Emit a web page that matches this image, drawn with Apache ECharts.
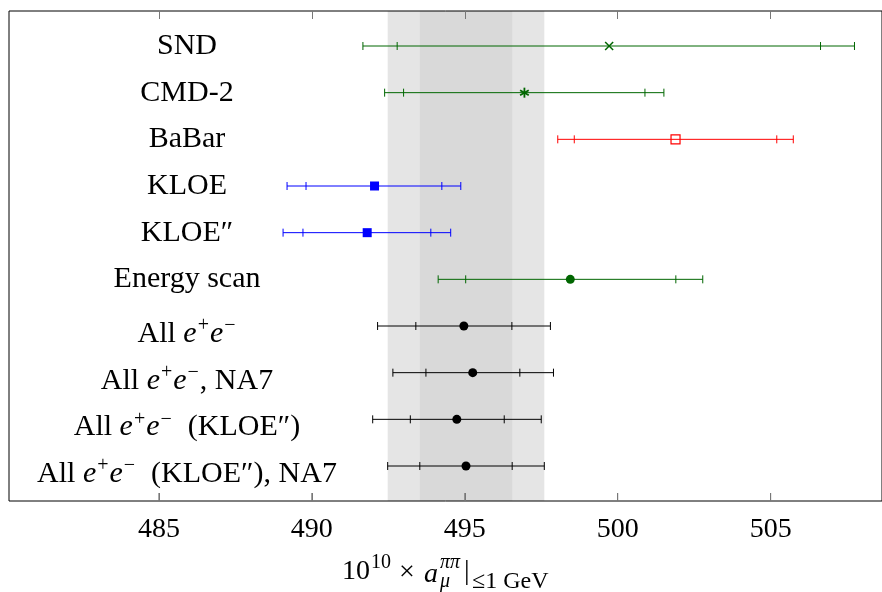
<!DOCTYPE html>
<html>
<head>
<meta charset="utf-8">
<script src="https://cdn.jsdelivr.net/npm/echarts@6/dist/echarts.min.js"></script>
<style>
  html, body { margin: 0; padding: 0; background: #fff; }
  #main { width: 882px; height: 592px; }
</style>
</head>
<body>
<div id="main"></div>
<script>
// measurements, one entry per row (top to bottom)
var rowNames = ['SND', 'CMD-2', 'BaBar', 'KLOE', 'KLOE″', 'Energy scan',
  'All e+e−', 'All e+e−, NA7', 'All e+e− (KLOE″)', 'All e+e− (KLOE″), NA7'];
var centers = [499.72, 496.95, 501.89, 492.05, 491.81, 498.45, 494.97, 495.26, 494.74, 495.04];
var innerLo = [492.79, 493.00, 498.58, 489.81, 489.71, 495.03, 493.40, 493.73, 493.22, 493.53];
var innerHi = [506.63, 500.89, 505.20, 494.25, 493.89, 501.90, 496.54, 496.80, 496.29, 496.55];
var outerLo = [491.67, 492.38, 498.04, 489.19, 489.06, 494.13, 492.15, 492.65, 491.99, 492.48];
var outerHi = [507.74, 501.51, 505.74, 494.87, 494.54, 502.78, 497.80, 497.90, 497.50, 497.60];
var bandInner = [493.53, 496.55];
var bandOuter = [492.48, 497.60];
var xTicks = [485, 490, 495, 500, 505];

var markers = ['cross', 'asterisk', 'openSquare', 'square', 'square', 'circle', 'circle', 'circle', 'circle', 'circle'];
var rowColors = ['#006600', '#006600', '#ff0000', '#0000ff', '#0000ff', '#006600', '#000', '#000', '#000', '#000'];

var serif = "'Liberation Serif', 'DejaVu Serif', serif";
var yMin = -0.75, yMax = 9.75;

var chartDom = document.getElementById('main');
var myChart = echarts.init(chartDom);

var rows = rowNames.map(function (n, i) {
  return [i, centers[i], innerLo[i], innerHi[i], outerLo[i], outerHi[i]];
});

// latex-ish rich text for the row names
function richName(name) {
  if (name.indexOf('All e+e−') !== 0) {
    return '{r|' + name + '}';
  }
  var rest = name.slice('All e+e−'.length);
  if (rest.indexOf(' (') === 0) rest = ' ' + rest;
  return '{r|All}{sp| }{i|e}{s|+}{i|e}{s|−}' + (rest ? '{r|' + rest + '}' : '');
}

function renderBar(params, api) {
  var row = api.value(0);
  var p = api.coord([api.value(1), row]);
  var y = p[1];
  var xs = [api.value(4), api.value(2), api.value(3), api.value(5)].map(function (v) {
    return api.coord([v, row])[0];
  });
  var col = rowColors[params.dataIndex];
  var ln = { stroke: col, lineWidth: 1 };
  var kids = [{ type: 'line', shape: { x1: xs[0], y1: y, x2: xs[3], y2: y }, style: ln }];
  xs.forEach(function (x) {
    kids.push({ type: 'line', shape: { x1: x, y1: y - 4, x2: x, y2: y + 4 }, style: ln });
  });
  var m = markers[params.dataIndex];
  var st = { stroke: col, lineWidth: 1.5 };
  if (m === 'cross') {
    kids.push({ type: 'line', shape: { x1: p[0] - 4, y1: y - 4, x2: p[0] + 4, y2: y + 4 }, style: st });
    kids.push({ type: 'line', shape: { x1: p[0] - 4, y1: y + 4, x2: p[0] + 4, y2: y - 4 }, style: st });
  } else if (m === 'asterisk') {
    [90, 30, 150].forEach(function (a) {
      var dx = 5 * Math.cos(a * Math.PI / 180), dy = 5 * Math.sin(a * Math.PI / 180);
      kids.push({ type: 'line', shape: { x1: p[0] - dx, y1: y - dy, x2: p[0] + dx, y2: y + dy },
        style: { stroke: col, lineWidth: 1.8 } });
    });
  } else if (m === 'openSquare') {
    kids.push({ type: 'rect', shape: { x: p[0] - 4.5, y: y - 4.5, width: 9, height: 9 },
      style: { fill: 'none', stroke: col, lineWidth: 1.2 } });
  } else if (m === 'square') {
    kids.push({ type: 'rect', shape: { x: p[0] - 4.5, y: y - 4.5, width: 9, height: 9 }, style: { fill: col } });
  } else {
    kids.push({ type: 'circle', shape: { cx: p[0], cy: y, r: 4.5 }, style: { fill: col } });
  }
  return { type: 'group', children: kids };
}

// inward tick marks on the lower frame edge, placed by the x scale
function renderTick(params, api) {
  var b = api.coord([api.value(0), yMax]);
  return {
    type: 'line',
    shape: { x1: b[0], y1: b[1] - 8, x2: b[0], y2: b[1] },
    style: { stroke: '#777', lineWidth: 1 }
  };
}

function tx(text, x, y, size, italic) {
  return {
    type: 'text', x: x, y: y, silent: true,
    style: {
      text: text, fill: '#000', fontSize: size, fontFamily: serif,
      fontStyle: italic ? 'italic' : 'normal',
      align: 'left', verticalAlign: 'middle',
      textAlign: 'left', textVerticalAlign: 'middle'
    }
  };
}

var option = {
  animation: false,
  backgroundColor: '#fff',
  grid: {
    left: 9, right: 0, top: 11, bottom: 91,
    show: true, z: 3, backgroundColor: 'transparent',
    borderColor: '#000', borderWidth: 1
  },
  xAxis: [{
    type: 'value', min: 480.1, max: 508.64, position: 'bottom', z: 5,
    axisLine: { show: false, onZero: false },
    splitLine: { show: false },
    axisTick: { show: true, inside: true, length: 8, customValues: xTicks, lineStyle: { color: '#777' } },
    axisLabel: { customValues: xTicks, margin: 15, fontSize: 28, fontFamily: serif, color: '#000' }
  }, {
    type: 'value', min: 480.1, max: 508.64, position: 'top', z: 5,
    axisLine: { show: false, onZero: false },
    splitLine: { show: false },
    axisTick: { show: true, inside: true, length: 8, customValues: xTicks, lineStyle: { color: '#777' } },
    axisLabel: { show: false }
  }],
  yAxis: {
    type: 'value', min: yMin, max: yMax, inverse: true,
    axisLine: { show: false, onZero: false },
    axisTick: { show: false },
    splitLine: { show: false },
    axisLabel: {
      customValues: rowNames.map(function (n, i) { return i; }),
      inside: true, margin: 178, align: 'center',
      formatter: function (v) { return richName(rowNames[v]); },
      rich: {
        r: { fontSize: 30, fontFamily: serif, color: '#000', lineHeight: 30, verticalAlign: 'bottom' },
        sp: { fontSize: 30, fontFamily: serif, color: '#000', lineHeight: 46, verticalAlign: 'bottom' },
        i: { fontSize: 30, fontFamily: serif, fontStyle: 'italic', color: '#000', lineHeight: 30, verticalAlign: 'bottom' },
        s: { fontSize: 20, fontFamily: serif, color: '#000', lineHeight: 20, verticalAlign: 'middle', padding: [0, 1, 0, 1] }
      }
    }
  },
  graphic: [
    tx('10', 342, 572, 28),
    tx('10', 371, 563, 20),
    tx('×', 399, 573, 28),
    tx('a', 424, 575, 28, true),
    tx('ππ', 440, 563, 20, true),
    tx('μ', 440, 582, 20, true),
    tx('|', 464, 572, 28),
    tx('≤1 GeV', 472, 582, 24)
  ],
  series: [{
    type: 'custom',
    renderItem: renderBar,
    encode: { x: [1, 2, 3, 4, 5], y: 0 },
    data: rows,
    z: 4,
    markArea: {
      silent: true,
      z: 1,
      data: [
        [{ xAxis: bandOuter[0], itemStyle: { color: '#e5e5e5' } }, { xAxis: bandOuter[1] }],
        [{ xAxis: bandInner[0], itemStyle: { color: '#d9d9d9' } }, { xAxis: bandInner[1] }]
      ]
    }
  }, {
    type: 'custom',
    renderItem: renderTick,
    encode: { x: 0 },
    data: xTicks.map(function (v) { return [v]; }),
    silent: true,
    z: 5
  }]
};

option && myChart.setOption(option);
</script>
</body>
</html>
